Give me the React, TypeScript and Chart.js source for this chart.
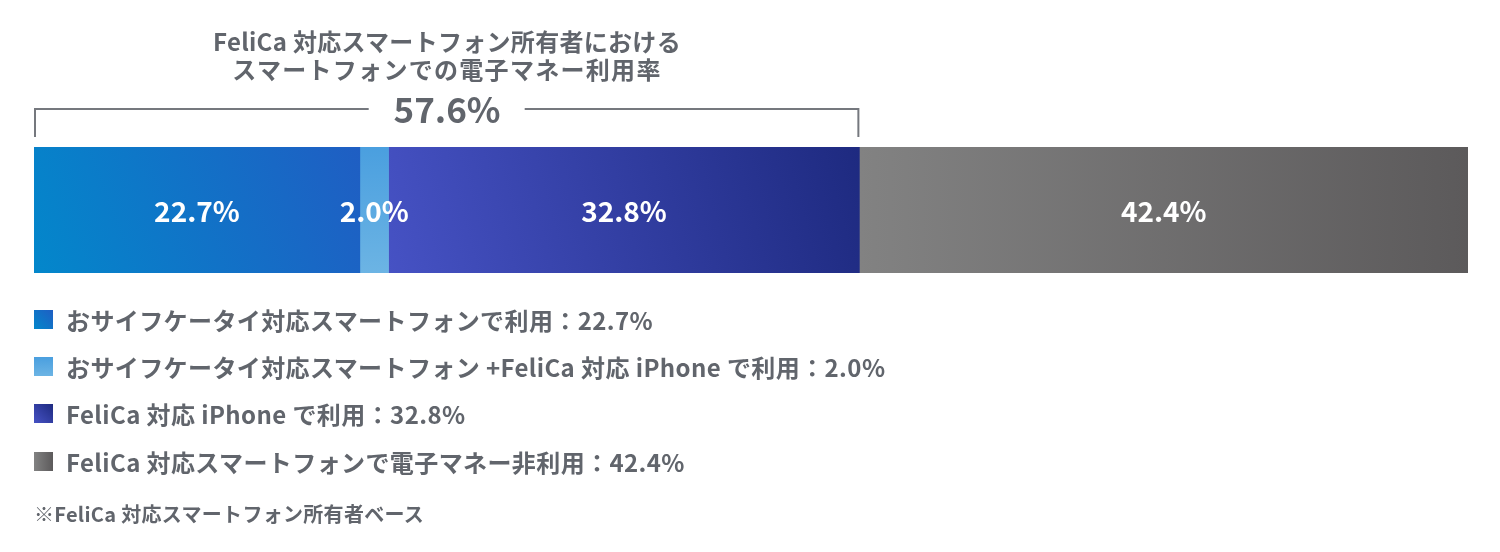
import { useEffect, useRef } from "react";
import { Chart, registerables } from "chart.js";
import type { ChartConfiguration, Plugin, ScriptableContext } from "chart.js";

Chart.register(...registerables);

const FONT = '"Noto Sans CJK JP", "Noto Sans", sans-serif';
const TEXT = "#61656c";

const TITLE_LINES = ["FeliCa 対応スマートフォン所有者における", "スマートフォンでの電子マネー利用率"];
const BRACKET_LABEL = "57.6%";
const CATEGORIES = [""];
const SERIES_NAMES = [
  "おサイフケータイ対応スマートフォンで利用",
  "おサイフケータイ対応スマートフォン +FeliCa 対応 iPhone で利用",
  "FeliCa 対応 iPhone で利用",
  "FeliCa 対応スマートフォンで電子マネー非利用",
];
const SERIES_VALUES = [22.7, 2.0, 32.8, 42.4];
const BRACKET_SERIES = 3; // first three segments are users
const FOOTNOTE = "※FeliCa 対応スマートフォン所有者ベース";

// [start, end] colour and gradient direction per segment
const GRADS: { from: string; to: string; dir: "diag" | "vert" | "horiz"; css: string }[] = [
  { from: "#0387cb", to: "#1f5ec3", dir: "diag", css: "linear-gradient(to top right, #0387cb, #1f5ec3)" },
  { from: "#4a9fdf", to: "#6cb4e4", dir: "vert", css: "linear-gradient(to bottom, #4a9fdf, #6cb4e4)" },
  { from: "#4652c4", to: "#1e2a80", dir: "diag", css: "linear-gradient(to top right, #4652c4, #1e2a80)" },
  { from: "#828282", to: "#5c5a5b", dir: "horiz", css: "linear-gradient(to right, #828282, #5c5a5b)" },
];

const total = SERIES_VALUES.reduce((a, b) => a + b, 0);
const fmt = (v: number) => `${v.toFixed(1)}%`;

export default function App() {
  const canvasRef = useRef<HTMLCanvasElement | null>(null);

  useEffect(() => {
    const ctx = canvasRef.current!.getContext("2d")!;

    const segFill = (i: number) => (c: ScriptableContext<"bar">) => {
      const { chart } = c;
      const area = chart.chartArea;
      const xs = chart.scales.x;
      if (!area || !xs) return GRADS[i].from;
      const start = SERIES_VALUES.slice(0, i).reduce((a, b) => a + b, 0);
      const x0 = xs.getPixelForValue(start);
      const x1 = xs.getPixelForValue(start + SERIES_VALUES[i]);
      const g = GRADS[i];
      let grad: CanvasGradient;
      if (g.dir === "vert") grad = chart.ctx.createLinearGradient(0, area.top, 0, area.bottom);
      else if (g.dir === "horiz") grad = chart.ctx.createLinearGradient(x0, 0, x1, 0);
      else grad = chart.ctx.createLinearGradient(x0, area.bottom, x1, area.top);
      grad.addColorStop(0, g.from);
      grad.addColorStop(1, g.to);
      return grad;
    };

    // white value labels centred in each segment
    const valueLabels: Plugin<"bar"> = {
      id: "valueLabels",
      afterDatasetsDraw(chart) {
        const c = chart.ctx;
        c.save();
        c.fillStyle = "#ffffff";
        c.font = `700 28px ${FONT}`;
        c.textAlign = "center";
        c.textBaseline = "middle";
        chart.data.datasets.forEach((ds, i) => {
          const el: any = chart.getDatasetMeta(i).data[0];
          if (!el) return;
          const { x, base, y } = el.getProps(["x", "base", "y"], true);
          c.fillText(fmt(ds.data[0] as number), (x + base) / 2, y + 1);
        });
        c.restore();
      },
    };

    // bracket spanning the "user" segments
    const bracket: Plugin<"bar"> = {
      id: "bracket",
      afterDraw(chart) {
        const xs = chart.scales.x;
        const used = SERIES_VALUES.slice(0, BRACKET_SERIES).reduce((a, b) => a + b, 0);
        const x0 = xs.getPixelForValue(0) + 1;
        const x1 = xs.getPixelForValue(used) - 1;
        const mid = (x0 + x1) / 2;
        const top = 109;
        const bottom = 137;
        const gap = 78;
        const c = chart.ctx;
        c.save();
        c.strokeStyle = "#75787e";
        c.lineWidth = 2;
        c.beginPath();
        c.moveTo(x0, bottom);
        c.lineTo(x0, top);
        c.lineTo(mid - gap, top);
        c.moveTo(mid + gap, top);
        c.lineTo(x1, top);
        c.lineTo(x1, bottom);
        c.stroke();
        c.restore();
      },
    };

    const config: ChartConfiguration<"bar", number[], string> = {
      type: "bar",
      data: {
        labels: CATEGORIES,
        datasets: SERIES_VALUES.map((v, i) => ({
          label: SERIES_NAMES[i],
          data: [v],
          backgroundColor: segFill(i),
          borderWidth: 0,
          borderSkipped: false,
          barPercentage: 1,
          categoryPercentage: 1,
          stack: "s",
        })),
      },
      options: {
        indexAxis: "y",
        responsive: false,
        animation: false,
        layout: { padding: { left: 34, right: 32, top: 147, bottom: 279 } },
        plugins: {
          legend: { display: false },
          tooltip: { enabled: false },
          title: { display: false },
        },
        scales: {
          x: { stacked: true, min: 0, max: total, display: false },
          y: { stacked: true, display: false },
        },
      },
      plugins: [valueLabels, bracket],
    };

    const chart = new Chart(ctx, config);
    return () => chart.destroy();
  }, []);

  const legendRows = [319, 366, 413, 461];
  const titleSpacing = [0.3, 1.3];

  return (
    <div style={{ position: "absolute", left: 0, top: 0, width: 1500, height: 552, background: "#fff", fontFamily: FONT, color: TEXT, fontWeight: 700 }}>
      <canvas ref={canvasRef} width={1500} height={552} style={{ position: "absolute", left: 0, top: 0 }} />
      {TITLE_LINES.map((t, i) => (
        <div key={t} style={{ position: "absolute", left: 147, width: 600, top: 26 + i * 28, textAlign: "center", fontSize: 24, lineHeight: "30px", letterSpacing: titleSpacing[i], whiteSpace: "nowrap" }}>
          {t}
        </div>
      ))}
      <div style={{ position: "absolute", left: 297, width: 300, top: 86, textAlign: "center", fontSize: 35, lineHeight: "44px" }}>
        {BRACKET_LABEL}
      </div>
      {SERIES_NAMES.map((n, i) => (
        <div key={n} style={{ position: "absolute", left: 34, top: legendRows[i] - 16, height: 32, display: "flex", alignItems: "center", whiteSpace: "nowrap" }}>
          <span style={{ width: 19, height: 19, background: GRADS[i].css, display: "inline-block", marginRight: 13 }} />
          <span style={{ fontSize: 24, letterSpacing: 0.4 }}>{`${n}：${fmt(SERIES_VALUES[i])}`}</span>
        </div>
      ))}
      <div style={{ position: "absolute", left: 34, top: 500, fontSize: 20, letterSpacing: 0.3, lineHeight: "28px", whiteSpace: "nowrap" }}>{FOOTNOTE}</div>
    </div>
  );
}
